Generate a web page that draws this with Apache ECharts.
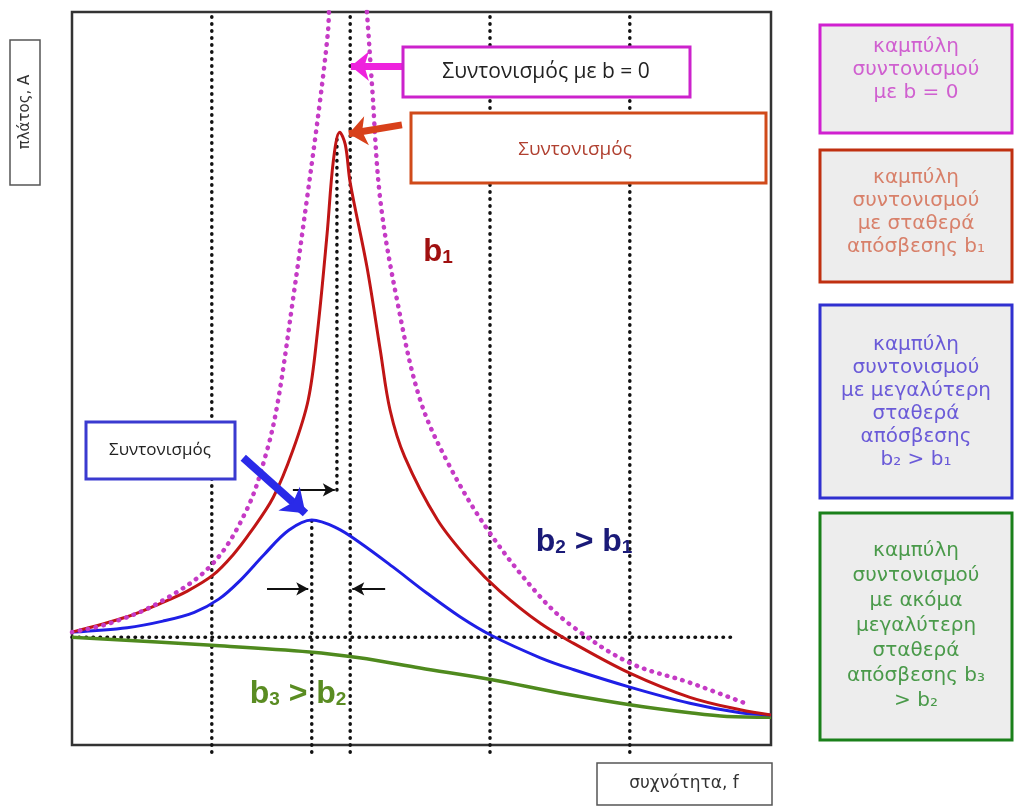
<!DOCTYPE html>
<html>
<head>
<meta charset="utf-8">
<script src="https://cdn.jsdelivr.net/npm/echarts@6/dist/echarts.min.js"></script>
<style>
  html, body { margin: 0; padding: 0; background: #fff; }
  #main { width: 1014px; height: 809px; }
</style>
</head>
<body>
<div id="main"></div>
<script>
// frequency (0-100) / amplitude (0-100)
var curveB0 = [[0,15.4],[5.4,16.6],[12.6,19.5],[20,24.6],[25,32.1],[27.9,40.2],[29.5,47.1],[31.6,60.7],[33.6,74.4],[35.5,88],[36.6,97.1],[37.4,106],
               [41.7,106],[42.2,99.9],[42.9,90.3],[44.1,74.4],[46.5,60.7],[49.8,47.1],[54.1,37.9],[59.8,28.9],[67,20.2],[71.7,16.1],[79.8,11.2],[88.4,8.5],[96.3,5.7]];
var curveB1 = [[0,15.4],[7.9,17.5],[12.6,19.3],[16.5,21],[20.2,23.2],[23,25.9],[25.5,29],[28.8,33.8],[31.6,40.2],[33.8,47.1],[35.1,56.2],[36.5,69.8],[37.4,79.8],[38.3,83.6],
               [39.1,81.9],[39.8,76.7],[42.2,65.2],[44.1,53.9],[45.5,45.7],[47.6,39.3],[52.3,30.7],[57,25],[61.2,21],[67,16.6],[71.7,13.9],[79.8,9.8],[88.4,6.5],[95.6,4.8],[100,4.1]];
var curveB2 = [[0,15.4],[7.9,16],[13,16.9],[17.5,18.1],[21,19.9],[24,22.4],[27.5,26],[31,29.3],[34.3,30.7],[37.9,29.6],[41.2,27.6],[45.9,24.3],[50.8,20.7],
               [55.5,17.5],[60.1,14.9],[67,11.9],[71.7,10.3],[79.8,7.9],[88.4,5.7],[95.6,4.4],[100,4.1]];
var curveB3 = [[0,14.7],[20,13.6],[34,12.7],[41.1,11.9],[49.8,10.5],[60.1,8.9],[69.8,7.1],[79.8,5.5],[88.4,4.4],[93.7,3.9],[100,3.8]];

// dotted guide lines: x position, from, to
var guideX    = [20, 34.3, 37.9, 39.8, 59.8, 79.8];
var guideFrom = [-1, -1, 34.8, -1, -1, -1];
var guideTo   = [100, 30.7, 83.0, 100, 100, 100];
var baseLevel = 14.7, baseEnd = 94.8;

// width arrows: [x1, x2, y]
var widthArrows = [[31.6, 37.6, 34.8], [27.9, 33.8, 21.3], [44.8, 40.1, 21.3]];

var chart = echarts.init(document.getElementById('main'));

var dotted = { color: '#111', width: 3.5, type: [0.5, 6.5], cap: 'round' };

var guideSeries = guideX.map(function (x, i) {
  return {
    type: 'line', data: [[x, guideFrom[i]], [x, guideTo[i]]],
    symbol: 'none', clip: false, silent: true, z: 1,
    lineStyle: dotted
  };
});
guideSeries.push({
  type: 'line', data: [[0, baseLevel], [baseEnd, baseLevel]],
  symbol: 'none', silent: true, z: 1, lineStyle: dotted
});

function curve(data, color, style) {
  return {
    type: 'line', data: data, symbol: 'none', smooth: 0.35, clip: true, z: 3,
    lineStyle: Object.assign({ color: color, width: 3 }, style || {})
  };
}

function arrowLine(from, to, color, width, size) {
  return [
    { coord: from, symbol: 'none', lineStyle: { color: color, width: width, type: 'solid' }, itemStyle: { color: color } },
    { coord: to, symbol: 'arrow', symbolSize: size, itemStyle: { color: color } }
  ];
}

var pointers = {
  type: 'line', data: [], symbol: 'none', z: 5, silent: true,
  markLine: {
    silent: true, symbol: ['none', 'arrow'], label: { show: false },
    animation: false,
    data: widthArrows.map(function (a) {
      return arrowLine([a[0], a[2]], [a[1], a[2]], '#111', 2, [10, 12]);
    }).concat([
      arrowLine([47.3, 92.6], [39.9, 92.6], '#ee22dd', 7, [22, 18]),
      arrowLine([47.2, 84.6], [39.6, 83.4], '#d8401a', 7, [22, 18]),
      arrowLine([24.5, 39.2], [33.4, 31.6], '#2a2ae8', 8, [24, 22])
    ])
  }
};

function box(x, y, w, h, color, fill, bw) {
  return { type: 'rect', shape: { x: x, y: y, width: w, height: h },
           style: { fill: fill, stroke: color, lineWidth: bw }, z: 10 };
}
function txt(x, y, text, font, color, extra) {
  return { type: 'text', x: x, y: y, z: 11,
           style: Object.assign({ text: text, font: font, fill: color, align: 'center', verticalAlign: 'middle' }, extra || {}) };
}

var legFont = '20px "DejaVu Sans", sans-serif';
var subRich = function (color, size) {
  return {
    b: { font: 'bold ' + size + 'px "Liberation Sans", Arial, sans-serif', fill: color },
    s: { font: 'bold ' + Math.round(size * 0.6) + 'px "Liberation Sans", Arial, sans-serif', fill: color, padding: [12, 0, 0, 0] }
  };
};

option = {
  animation: false,
  backgroundColor: '#fff',
  grid: { left: 72, top: 12, width: 699, height: 733, show: true, borderColor: '#333', borderWidth: 2.5, backgroundColor: '#fff' },
  xAxis: { type: 'value', min: 0, max: 100, axisLine: { show: false }, axisTick: { show: false }, axisLabel: { show: false }, splitLine: { show: false } },
  yAxis: { type: 'value', min: 0, max: 100, axisLine: { show: false }, axisTick: { show: false }, axisLabel: { show: false }, splitLine: { show: false } },
  series: guideSeries.concat([
    curve(curveB3, '#4f8a1e', { width: 3.5 }),
    curve(curveB2, '#1f1fe6'),
    curve(curveB1, '#c01515'),
    curve(curveB0, '#c53ac5', { width: 4.5, type: [0.5, 7.5], cap: 'round' }),
    pointers
  ]),
  graphic: [
    // axis name boxes
    box(10, 40, 30, 145, '#555', '#fff', 1.5),
    txt(25, 112, 'πλάτος, A', '15px "DejaVu Sans", sans-serif', '#333', {}),
    box(597, 763, 175, 42, '#555', '#fff', 1.5),
    txt(684, 784, 'συχνότητα, f', '17px "DejaVu Sans", sans-serif', '#333'),

    // callouts on the plot
    box(403, 47, 287, 50, '#cc22cc', '#fff', 3),
    txt(546, 72, 'Συντονισμός με b = 0', '21px "Open Sans", sans-serif', '#222'),
    box(411, 113, 355, 70, '#d04a1a', '#fff', 3),
    txt(575, 150, 'Συντονισμός', '19px "Open Sans", sans-serif', '#b04030'),
    box(86, 422, 149, 57, '#3a3ad0', '#fff', 3),
    txt(160, 450, 'Συντονισμός', '17px "Open Sans", sans-serif', '#222'),

    // curve labels
    txt(438, 252, '{b|b}{s|1}', '', '#a01010', { rich: subRich('#a01010', 31) }),
    txt(584, 542, '{b|b}{s|2}{b| > b}{s|1}', '', '#1a1a78', { rich: subRich('#1a1a78', 32) }),
    txt(298, 694, '{b|b}{s|3}{b| > b}{s|2}', '', '#5a8c22', { rich: subRich('#5a8c22', 32) }),

    // right-hand legend boxes
    box(820, 25, 192, 108, '#d020d0', '#ededed', 3),
    txt(916, 70, 'καμπύλη\nσυντονισμού\nμε b = 0', legFont, '#d060d0', { lineHeight: 23 }),
    box(820, 150, 192, 132, '#c03010', '#ededed', 3),
    txt(916, 212, 'καμπύλη\nσυντονισμού\nμε σταθερά\nαπόσβεσης b₁', legFont, '#d8806a', { lineHeight: 23 }),
    box(820, 305, 192, 193, '#3030d0', '#ededed', 3),
    txt(916, 402, 'καμπύλη\nσυντονισμού\nμε μεγαλύτερη\nσταθερά\nαπόσβεσης\nb₂ > b₁', legFont, '#6a5ad8', { lineHeight: 23 }),
    box(820, 513, 192, 227, '#1a801a', '#ededed', 3),
    txt(916, 626, 'καμπύλη\nσυντονισμού\nμε ακόμα\nμεγαλύτερη\nσταθερά\nαπόσβεσης b₃\n> b₂', legFont, '#4a9a4a', { lineHeight: 25 })
  ]
};
// rotate the y-axis name
option.graphic[1].rotation = Math.PI / 2;

chart.setOption(option);
</script>
</body>
</html>
